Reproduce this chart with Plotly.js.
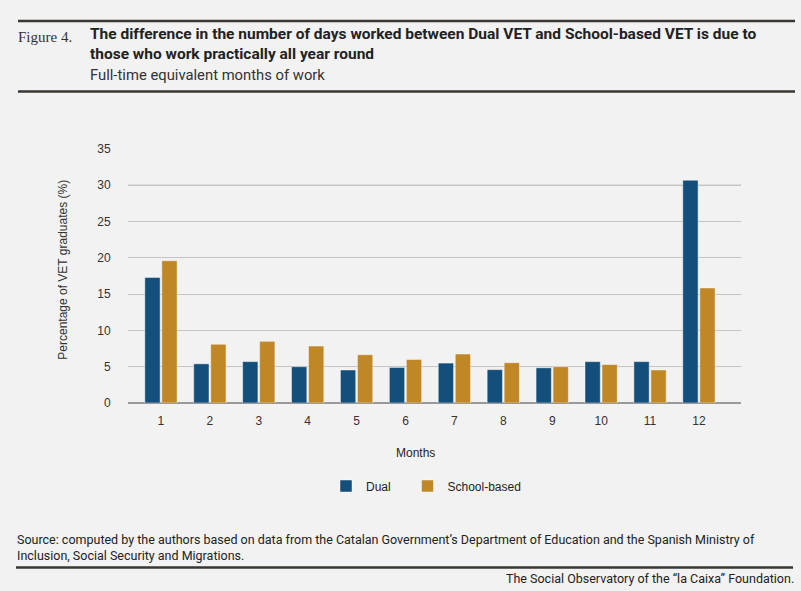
<!DOCTYPE html>
<html>
<head>
<meta charset="utf-8">
<script src="https://cdn.plot.ly/plotly-3.0.1.min.js"></script>
<style>
  html, body { margin: 0; padding: 0; background: #f2f2f2; }
  #myDiv { width: 801px; height: 591px; }
</style>
</head>
<body>
<div id="myDiv"></div>
<script>
var months = [1, 2, 3, 4, 5, 6, 7, 8, 9, 10, 11, 12];
var dual = [17.3, 5.4, 5.7, 5.0, 4.55, 4.9, 5.5, 4.6, 4.85, 5.7, 5.7, 30.7];
var schoolBased = [19.6, 8.1, 8.5, 7.85, 6.65, 6.0, 6.75, 5.55, 5.0, 5.3, 4.55, 15.85];
var yTicks = [0, 5, 10, 15, 20, 25, 30, 35];

var grot = 'Roboto, "Liberation Sans", sans-serif';
var sans = '"Liberation Sans", Arial, sans-serif';

// pixel helpers for the page furniture (plot area is 128..741 x 149..403)
function px(x) { return (x - 128) / 613; }
function py(y) { return (403 - y) / 254; }

var trace1 = {
  x: months,
  y: dual,
  type: 'bar',
  name: 'Dual',
  legend: 'legend',
  marker: {
    color: '#134f7a',
    line: {color: 'rgba(255,255,255,0.45)', width: 1}
  },
  hoverinfo: 'none'
};

var trace2 = {
  x: months,
  y: schoolBased,
  type: 'bar',
  name: 'School-based',
  legend: 'legend2',
  marker: {
    color: '#c08727',
    line: {color: 'rgba(255,255,255,0.45)', width: 1}
  },
  hoverinfo: 'none'
};

var data = [trace1, trace2];

var legendStyle = {
  orientation: 'h',
  xanchor: 'left',
  y: py(486),
  yanchor: 'middle',
  font: {family: sans, size: 12, color: '#222'},
  bgcolor: 'rgba(0,0,0,0)'
};

var layout = {
  width: 801,
  height: 591,
  autosize: false,
  paper_bgcolor: '#f2f2f2',
  plot_bgcolor: '#f2f2f2',
  margin: {l: 128, r: 60, t: 149, b: 188},
  barmode: 'group',
  bargap: 0.305,
  bargroupgap: 0.1,
  font: {family: sans, size: 12, color: '#333'},
  showlegend: true,
  legend: Object.assign({x: px(326)}, legendStyle),
  legend2: Object.assign({x: px(407.5)}, legendStyle),
  xaxis: {
    range: [0.326, 12.86],
    tickvals: months,
    ticktext: months.map(String),
    ticks: 'outside',
    ticklen: 7,
    tickcolor: 'rgba(0,0,0,0)',
    showgrid: false,
    zeroline: false,
    showline: false,
    tickfont: {family: sans, size: 12, color: '#333'},
    fixedrange: true
  },
  yaxis: {
    range: [0, 35],
    tickvals: yTicks,
    ticks: 'outside',
    ticklen: 14,
    tickcolor: 'rgba(0,0,0,0)',
    showgrid: true,
    gridcolor: '#c4c4c4',
    gridwidth: 1,
    zeroline: true,
    zerolinecolor: '#999',
    zerolinewidth: 2.5,
    showline: false,
    tickfont: {family: sans, size: 12, color: '#333'},
    fixedrange: true
  },
  shapes: [
    // the 30 gridline is drawn a little darker in the original
    {type: 'line', xref: 'paper', yref: 'y', x0: 0, x1: 1, y0: 30, y1: 30, layer: 'between',
     line: {color: '#8f8f8f', width: 1}},
    {type: 'line', xref: 'paper', yref: 'paper', x0: px(18), x1: px(795), y0: py(21), y1: py(21),
     line: {color: '#3a3632', width: 2.5}},
    {type: 'line', xref: 'paper', yref: 'paper', x0: px(18), x1: px(795), y0: py(91.5), y1: py(91.5),
     line: {color: '#3a3632', width: 2.5}},
    {type: 'line', xref: 'paper', yref: 'paper', x0: px(16), x1: px(793), y0: py(567.5), y1: py(567.5),
     line: {color: '#3a3632', width: 2.5}}
  ],
  annotations: [
    {text: 'Figure 4.', xref: 'paper', yref: 'paper', x: px(16), y: py(37),
     xanchor: 'left', yanchor: 'middle', showarrow: false,
     font: {family: '"Liberation Serif", "DejaVu Serif", serif', size: 15, color: '#333'}},
    {text: '<b>The difference in the number of days worked between Dual VET and School-based VET is due to<br>those who work practically all year round</b>',
     xref: 'paper', yref: 'paper', x: px(88), y: py(44.2),
     xanchor: 'left', yanchor: 'middle', align: 'left', showarrow: false,
     font: {family: grot, size: 15.5, color: '#222'}},
    {text: 'Full-time equivalent months of work', xref: 'paper', yref: 'paper',
     x: px(88), y: py(75), xanchor: 'left', yanchor: 'middle', showarrow: false,
     font: {family: grot, size: 14.8, color: '#333'}},
    {text: 'Percentage of VET graduates (%)', xref: 'paper', yref: 'paper',
     x: px(62.7), y: py(270), xanchor: 'center', yanchor: 'middle',
     textangle: -90, showarrow: false, font: {family: sans, size: 12, color: '#333'}},
    {text: 'Months', xref: 'paper', yref: 'paper', x: px(415), y: py(452.7),
     xanchor: 'center', yanchor: 'middle', showarrow: false,
     font: {family: sans, size: 12, color: '#222'}},
    {text: 'Source: computed by the authors based on data from the Catalan Government’s Department of Education and the Spanish Ministry of<br>Inclusion, Social Security and Migrations.',
     xref: 'paper', yref: 'paper', x: px(15), y: py(547.5),
     xanchor: 'left', yanchor: 'middle', align: 'left', showarrow: false,
     font: {family: grot, size: 12.5, color: '#222'}},
    {text: 'The Social Observatory of the “la Caixa” Foundation.', xref: 'paper', yref: 'paper',
     x: px(796), y: py(578.5), xanchor: 'right', yanchor: 'middle', showarrow: false,
     font: {family: grot, size: 12.5, color: '#222'}}
  ]
};

Plotly.newPlot('myDiv', data, layout, {displayModeBar: false, staticPlot: true});
</script>
</body>
</html>
